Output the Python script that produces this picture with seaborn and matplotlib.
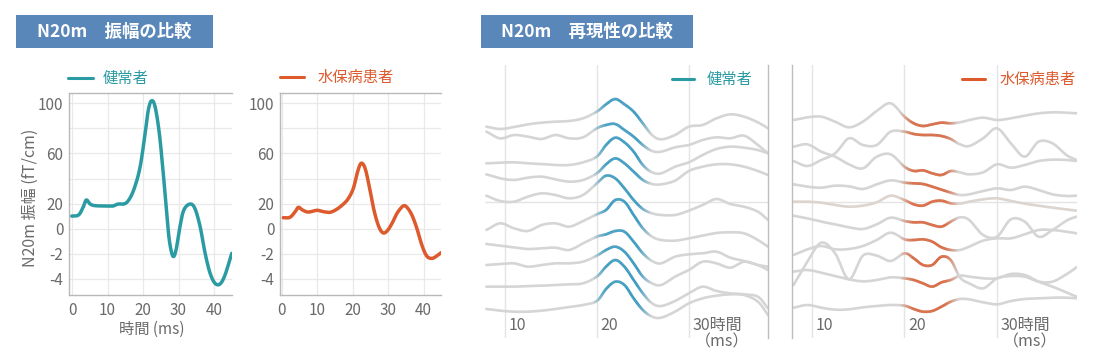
import numpy as np
import matplotlib
matplotlib.use("Agg")
import matplotlib.pyplot as plt
import matplotlib.colors as mcolors
import seaborn as sns
from matplotlib.collections import LineCollection
from matplotlib.lines import Line2D
from matplotlib.patches import Rectangle

# ---------------- data ----------------
# N20m amplitude (fT/cm) vs time (ms)
healthy_time = [-0.1, 1.8, 3.0, 4.0, 5.1, 6.5, 9.8, 11.5, 13.0, 14.9, 16.3, 17.7, 19.2, 20.6,
                21.5, 22.4, 23.4, 24.6, 25.7, 26.7, 27.4, 28.4, 29.3, 30.4, 31.5, 33.2, 34.6,
                36.1, 37.5, 38.9, 40.3, 41.7, 43.1, 45.0]
healthy_amp = [10.1, 10.9, 16.3, 22.9, 19.7, 18.4, 18.1, 18.1, 19.7, 20.0, 24.3, 33.5, 49.5, 76.0,
               94.7, 102.0, 97.3, 76.0, 44.2, 12.3, -0.9, -2.18, -1.7, 1.6, 14.9, 19.7, 16.3,
               1.6, -1.96, -3.55, -4.35, -4.4, -3.69, -1.96]

patient_time = [0.45, 2.3, 3.8, 4.7, 5.9, 7.5, 9.9, 11.8, 13.6, 15.5, 17.4, 18.8, 20.2, 21.4,
                22.4, 23.5, 24.7, 26.0, 27.3, 28.5, 29.7, 31.1, 32.5, 34.2, 35.3, 36.7, 38.1,
                39.5, 40.9, 42.4, 43.8, 44.9]
patient_amp = [8.8, 9.1, 13.6, 17.1, 14.9, 13.3, 14.7, 13.6, 13.1, 15.5, 19.7, 24.2, 32.2, 45.5,
               52.2, 48.2, 33.5, 14.9, 2.2, -0.32, -0.18, 4.3, 12.3, 18.1, 17.1, 10.9, 0.3,
               -1.3, -2.18, -2.36, -2.15, -1.91]

amp_yticks = [100, 60, 20, 0, -2, -4]
amp_yminor = [80, 40]
amp_xticks = [0, 10, 20, 30, 40]

# Reproducibility: repeated N20m recordings (relative amplitude per trial)
rep_time = [8, 9.5, 11, 12.5, 14, 15.5, 17, 18.5, 20, 21, 22, 23, 24, 25, 26, 27, 28.5,
            30, 31.5, 33, 34.5, 36, 37.5, 38.6]

healthy_trials = [
    [0, -7, -1, 7, 12, 15, 17, 25, 45, 67, 83, 67, 45, 10, -25, -38, -25, 0, 5, 25, 37, 30, 13, -5],
    [0, -20, -10, -15, -22, -10, -20, -17, 10, 20, 23, 5, -15, -40, -58, -60, -47, -40, -25, -17, -20, -12, -40, -65],
    [0, 2, 3, 0, -2, -5, -5, 3, 20, 55, 77, 63, 35, -5, -27, -30, -10, 3, 25, 43, 50, 47, 40, 30],
    [0, -12, -17, -10, -7, -15, -22, -17, 3, 30, 48, 33, 8, -17, -29, -30, -19, 10, 23, 30, 30, 23, 10, -2],
    [0, -16, -18, -3, 7, 2, -8, 2, 37, 60, 52, 22, -13, -40, -53, -58, -58, -45, -28, -10, -25, -33, -48, -73],
    [0, 20, 5, -3, 15, 20, 10, 27, 47, 60, 90, 85, 45, 5, -20, -30, -32, -25, -17, -9, -7, -10, -30, -50],
    [0, -5, -10, -15, -13, -11, -18, 2, 22, 29, 39, 37, 7, -28, -51, -58, -38, -31, -28, -23, -41, -51, -63, -78],
    [0, 3, 5, -5, 0, 5, 5, 10, 28, 45, 55, 40, 5, -35, -55, -60, -35, -15, 10, 5, -8, 10, 0, -5],
    [0, 0, 0, 2, 3, 5, 7, 10, 30, 60, 80, 60, 20, -20, -50, -58, -43, -20, 0, -13, -20, -23, -30, -65],
    [0, -5, -8, -8, -5, 0, 6, 12, 24, 60, 82, 72, 32, -3, -23, -26, -8, 17, 32, 40, 44, 42, 22, -18],
]
healthy_levels = [125, 140, 235, 268, 332, 435, 477, 540, 605, 672]

patient_trials = [
    [0, 8, 10, -5, -22, -5, 27, 50, 10, -10, -18, -13, -8, -10, -7, 0, 7, 0, 5, 13, 20, 23, 22, 20],
    [0, -15, 3, 23, 68, 48, 48, 88, 88, 81, 78, 78, 75, 66, 50, 45, 68, 98, 53, 13, 58, 53, 18, 3],
    [0, 7, -15, -30, -53, -65, -30, -23, -60, -73, -71, -80, -85, -73, -77, -83, -77, -53, -63, -55, -43, -39, -40, -43],
    [0, -7, -10, -4, -6, -14, 0, 12, 5, 3, 1, -7, -16, -25, -32, -30, -20, -12, -17, -7, -17, -30, -35, -34],
    [0, 0, -3, -10, -15, -12, -2, 18, 5, -8, -12, 0, 3, -5, -6, 0, 7, 10, 2, -6, -12, -18, -23, -27],
    [0, -8, -18, -26, -35, -40, -26, -6, -16, -20, -20, -28, -33, -18, -5, -13, -58, -63, -11, -18, -63, -43, -15, -3],
    [0, 17, 27, 17, 18, 27, 45, 67, 47, 45, 47, 40, 23, 15, 15, 25, 43, 50, 50, 62, 75, 75, 70, 65],
    [0, 5, -3, -13, -23, -29, -25, -17, -20, -25, -35, -45, -32, -25, -12, -15, -20, -20, -7, -10, -30, -45, -62, -75],
    [0, 70, 127, 95, 17, 88, 88, 72, 95, 80, 60, 60, 85, 75, 23, 5, -10, 20, 27, 25, 10, 10, 32, 53],
    [0, 8, 0, -6, -5, 1, 5, 8, 6, -4, -12, -10, 3, 18, 26, 25, 16, 10, 20, 26, 28, 30, 30, 28],
]
patient_levels = [105, 228, 185, 298, 350, 392, 510, 560, 600, 668]

rep_grid = [10, 20, 30]
rep_labels = ["10", "20", "30時間"]

label_healthy = "健常者"
label_patient = "水保病患者"
title_amp = "N20m　振幅の比較"
title_rep = "N20m　再現性の比較"

# ---------------- style ----------------
sns.set_theme(style="white")
plt.rcParams["font.family"] = ["Noto Sans CJK JP", "DejaVu Sans"]

TEAL = "#2a9ba3"
BLUE = "#2c98c2"
ORANGE = "#dc5a2c"
GRAY = "#d5d5d5"
TXT = "#6a6a6a"
HEAD = "#5a87b9"

W, H = 1096, 357
fig = plt.figure(figsize=(W / 100, H / 100), dpi=100)
fig.patch.set_facecolor("white")


def rect(x0, y0, x1, y1):
    return [x0 / W, 1 - y1 / H, (x1 - x0) / W, (y1 - y0) / H]


def fx(px):
    return px / W


def fy(py):
    return 1 - py / H


def smooth(x, y, n=12):
    x = np.asarray(x, float)
    y = np.asarray(y, float)
    px = np.concatenate([[2 * x[0] - x[1]], x, [2 * x[-1] - x[-2]]])
    py = np.concatenate([[2 * y[0] - y[1]], y, [2 * y[-1] - y[-2]]])
    t = np.linspace(0, 1, n, endpoint=False)
    t2, t3 = t * t, t * t * t
    ox, oy = [], []
    for i in range(1, len(px) - 2):
        for P, out in ((px, ox), (py, oy)):
            p0, p1, p2, p3 = P[i - 1], P[i], P[i + 1], P[i + 2]
            out.append(0.5 * (2 * p1 + (-p0 + p2) * t + (2 * p0 - 5 * p1 + 4 * p2 - p3) * t2
                              + (-p0 + 3 * p1 - 3 * p2 + p3) * t3))
    ox.append([x[-1]])
    oy.append([y[-1]])
    return np.concatenate(ox), np.concatenate(oy)


def fwd(v):
    v = np.asarray(v, float)
    return np.where(v >= 0, v, v * 10)


def inv(v):
    v = np.asarray(v, float)
    return np.where(v >= 0, v, v / 10)


# ---------------- amplitude panels ----------------
def amp_panel(box, times, vals, color, xlim):
    ax = fig.add_axes(rect(*box))
    ax.set_yscale("function", functions=(fwd, inv))
    xs, ys_d = smooth(times, fwd(vals), n=10)
    sns.lineplot(x=xs, y=inv(ys_d), sort=False, estimator=None, color=color, lw=2.5, ax=ax,
                 solid_capstyle="round")
    ax.set_xlim(*xlim)
    ax.set_ylim(-5.28, 108.2)
    ax.set_yticks(amp_yticks)
    ax.set_yticklabels([str(v) for v in amp_yticks])
    ax.set_yticks(amp_yminor, minor=True)
    ax.set_xticks(amp_xticks)
    ax.grid(True, which="both", color="#e9e9e9", lw=0.9)
    ax.set_axisbelow(True)
    ax.tick_params(axis="both", which="both", length=0, labelsize=11, labelcolor=TXT)
    ax.tick_params(axis="x", pad=5)
    ax.tick_params(axis="y", pad=4)
    for s in ("left", "bottom", "top"):
        ax.spines[s].set_color("#b9b9b9")
        ax.spines[s].set_linewidth(1.0)
    ax.spines["right"].set_visible(False)
    ax.set_xlabel("")
    ax.set_ylabel("")
    return ax


amp_panel((69, 93, 232, 295), healthy_time, healthy_amp, TEAL, (-0.85, 45.07))
amp_panel((280, 93, 441, 295), patient_time, patient_amp, ORANGE, (-0.48, 44.9))

fig.text(fx(30), fy(198), "N20m 振幅 (fT/cm)", rotation=90, ha="center", va="center",
         color=TXT, fontsize=11.5)
fig.text(fx(152), fy(329), "時間 (ms)", ha="center", va="center", color=TXT, fontsize=11)


# ---------------- reproducibility panels ----------------
def rep_panel(box, xlim, trials, levels, color, t0, t1, border, tint=None):
    ax = fig.add_axes(rect(*box))
    ax.set_xlim(*xlim)
    ax.set_ylim(-759, 60)
    for g in rep_grid:
        ax.axvline(g, color="#e4e4e4", lw=1.0, zorder=0)
    ax.axhline(-351, color="#e4e4e4", lw=1.0, zorder=0)
    curves = []
    for k, (tr, lv) in enumerate(zip(trials, levels)):
        xs, ys = smooth(rep_time, np.asarray(tr, float) - lv, n=12)
        c = tint if (tint is not None and k == 4) else GRAY
        sns.lineplot(x=xs, y=ys, sort=False, estimator=None, color=c, lw=1.9, ax=ax)
        curves.append((xs, ys))
    for xs, ys in curves:
        pts = np.column_stack([xs, ys])
        segs = np.stack([pts[:-1], pts[1:]], axis=1)
        mid = (xs[:-1] + xs[1:]) / 2
        a = np.clip(np.minimum((mid - t0) / 1.4, (t1 - mid) / 1.4), 0, 1)
        rgba = np.tile(mcolors.to_rgba(color), (len(mid), 1))
        rgba[:, 3] = a
        ax.add_collection(LineCollection(segs, colors=rgba, linewidths=1.9, capstyle="butt", zorder=3))
    for s in ax.spines.values():
        s.set_visible(False)
    ax.spines[border].set_visible(True)
    ax.spines[border].set_color("#bdbdbd")
    ax.spines[border].set_linewidth(1.0)
    ax.set_xticks([])
    ax.set_yticks([])
    ax.set_xlabel("")
    ax.set_ylabel("")
    ax.set_facecolor("none")
    for g, lab in zip(rep_grid, rep_labels):
        ax.text(g + 0.4, -720, lab, ha="left", va="center", color=TXT, fontsize=11.5)
    ax.text(33.6, -771, "（ms）", ha="center", va="center", color=TXT, fontsize=11.5, clip_on=False)
    return ax


rep_panel((485, 65, 768, 338), (7.85, 38.6), healthy_trials, healthy_levels, BLUE, 19.6, 25.9, "right")
rep_panel((792, 65, 1077, 338), (7.84, 38.65), patient_trials, patient_levels, ORANGE, 19.5, 25.8,
          "left", tint="#dcd4cf")

# ---------------- legends ----------------
def legend(x0, x1, xt, y, text, color):
    fig.add_artist(Line2D([fx(x0), fx(x1)], [fy(y), fy(y)], color=color, lw=2.2))
    fig.text(fx(xt), fy(y), text, ha="left", va="center", color=color, fontsize=11)


legend(68, 93, 103, 78, label_healthy, TEAL)
legend(280, 304, 318, 77, label_patient, ORANGE)
legend(672, 694, 707, 79, label_healthy, TEAL)
legend(962, 985, 1000, 79, label_patient, ORANGE)

# ---------------- header boxes ----------------
for x0, x1, title in ((16, 213, title_amp), (481, 693, title_rep)):
    fig.add_artist(Rectangle((fx(x0), fy(47.5)), fx(x1) - fx(x0), fy(15) - fy(47.5),
                             transform=fig.transFigure, facecolor=HEAD, edgecolor="none"))
    fig.text((fx(x0) + fx(x1)) / 2, fy(31.5), title, ha="center", va="center", color="white",
             fontsize=12.5, fontweight="bold")

fig.savefig("out.png", dpi=100, facecolor="white")
